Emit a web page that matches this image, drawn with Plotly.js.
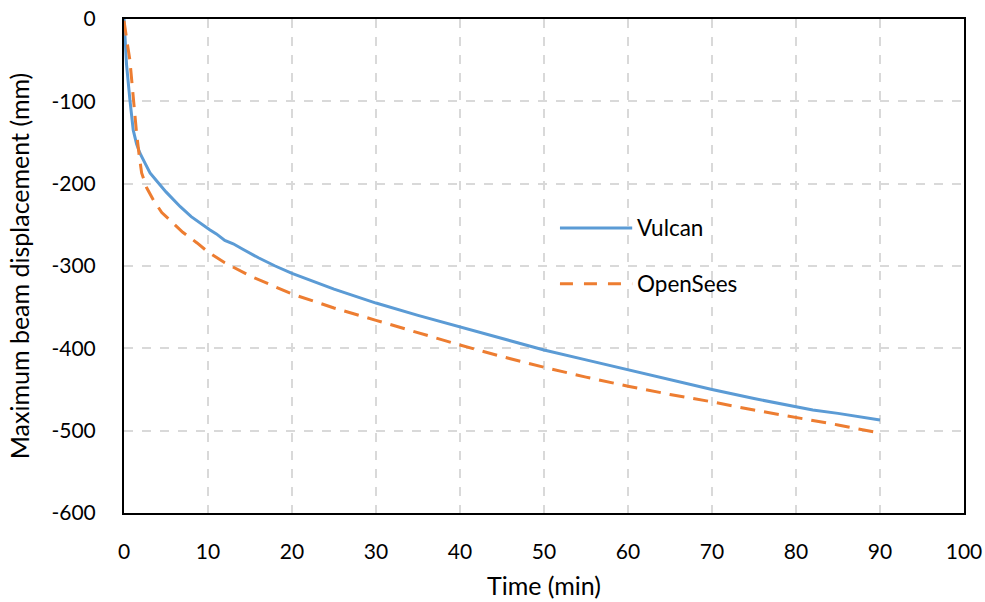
<!DOCTYPE html>
<html><head><meta charset="utf-8">
<script src="https://cdn.plot.ly/plotly-3.0.1.min.js"></script>
<style>body{margin:0;background:#fff}#chart{width:985px;height:602px}</style>
</head><body><div id="chart"></div>
<script>
const vulcanTime = [0, 0.1, 0.3, 0.7, 1.1, 1.5, 1.9, 2.5, 3.1, 4, 5, 6.7, 8, 10.2, 11, 12, 13, 14.2, 16, 18, 20, 25, 30, 35, 40, 45, 50, 55, 60, 65, 70, 75, 80, 82, 85, 90];
const vulcanDisp = [0, -15, -55, -98, -135, -152, -163, -175, -187, -198, -210, -228, -240, -256, -261, -269, -273, -280, -290, -300, -309, -328, -345, -360, -374, -388, -402, -414, -426, -438, -450, -461, -471, -475, -479, -487];
const openTime = [0, 0.1, 0.4, 0.7, 1.1, 1.5, 1.8, 2.1, 2.7, 3.5, 4.5, 5.9, 7, 8.7, 10, 12, 15, 20, 25, 30, 35, 40, 45, 50, 55, 60, 65, 70, 75, 80, 85, 90];
const openDisp = [-2, -11, -30, -50, -98, -139, -165, -187, -205, -220, -235, -248, -259, -272, -283, -296, -312, -334, -351, -366, -381, -396, -410, -423, -435, -446, -456, -465, -475, -484, -493, -503];
const seriesNames = ['Vulcan', 'OpenSees'];
const xTicks = [0, 10, 20, 30, 40, 50, 60, 70, 80, 90, 100];
const yTicks = [0, -100, -200, -300, -400, -500, -600];

const blue = '#5B9BD5', orange = '#ED7D31';
const font = 'Lato, "Open Sans", sans-serif';

const traces = [
  {x: vulcanTime, y: vulcanDisp, name: seriesNames[0], mode: 'lines', line: {color: blue, width: 3}, showlegend: false},
  {x: openTime, y: openDisp, name: seriesNames[1], mode: 'lines', line: {color: orange, width: 3, dash: '15px,9px'}, showlegend: false}
];

const layout = {
  width: 985, height: 602,
  margin: {l: 124, r: 21, t: 19, b: 89},
  paper_bgcolor: '#fff', plot_bgcolor: '#fff',
  font: {family: font, size: 21, color: '#000'},
  xaxis: {
    range: [0, 100], tickvals: xTicks, ticktext: xTicks.map(String),
    showgrid: true, gridcolor: '#d9d9d9', gridwidth: 1.5, griddash: 'dash',
    zeroline: false, showline: true, linecolor: '#000', linewidth: 2, mirror: true,
    ticks: '', ticklabelstandoff: 19,
    title: {text: 'Time (min)', font: {size: 25}, standoff: 15}
  },
  yaxis: {
    range: [-600, 0], tickvals: yTicks, ticktext: yTicks.map(String),
    showgrid: true, gridcolor: '#d9d9d9', gridwidth: 1.5, griddash: 'dash',
    zeroline: false, showline: true, linecolor: '#000', linewidth: 2, mirror: true,
    ticks: '', ticklabelstandoff: 22,
    title: {text: 'Maximum beam displacement (mm)', font: {size: 25}, standoff: 15}
  },
  shapes: [
    {type: 'line', xref: 'paper', yref: 'paper', x0: 0.519, x1: 0.605, y0: 0.577, y1: 0.577, line: {color: blue, width: 3}},
    {type: 'line', xref: 'paper', yref: 'paper', x0: 0.519, x1: 0.605, y0: 0.464, y1: 0.464, line: {color: orange, width: 3, dash: '13px,11px'}}
  ],
  annotations: [
    {xref: 'paper', yref: 'paper', x: 0.608, y: 0.577, xanchor: 'left', yanchor: 'middle', text: seriesNames[0], showarrow: false, font: {size: 22.5}},
    {xref: 'paper', yref: 'paper', x: 0.608, y: 0.464, xanchor: 'left', yanchor: 'middle', text: seriesNames[1], showarrow: false, font: {size: 22.5}}
  ]
};
Plotly.newPlot('chart', traces, layout, {displayModeBar: false});
</script></body></html>
